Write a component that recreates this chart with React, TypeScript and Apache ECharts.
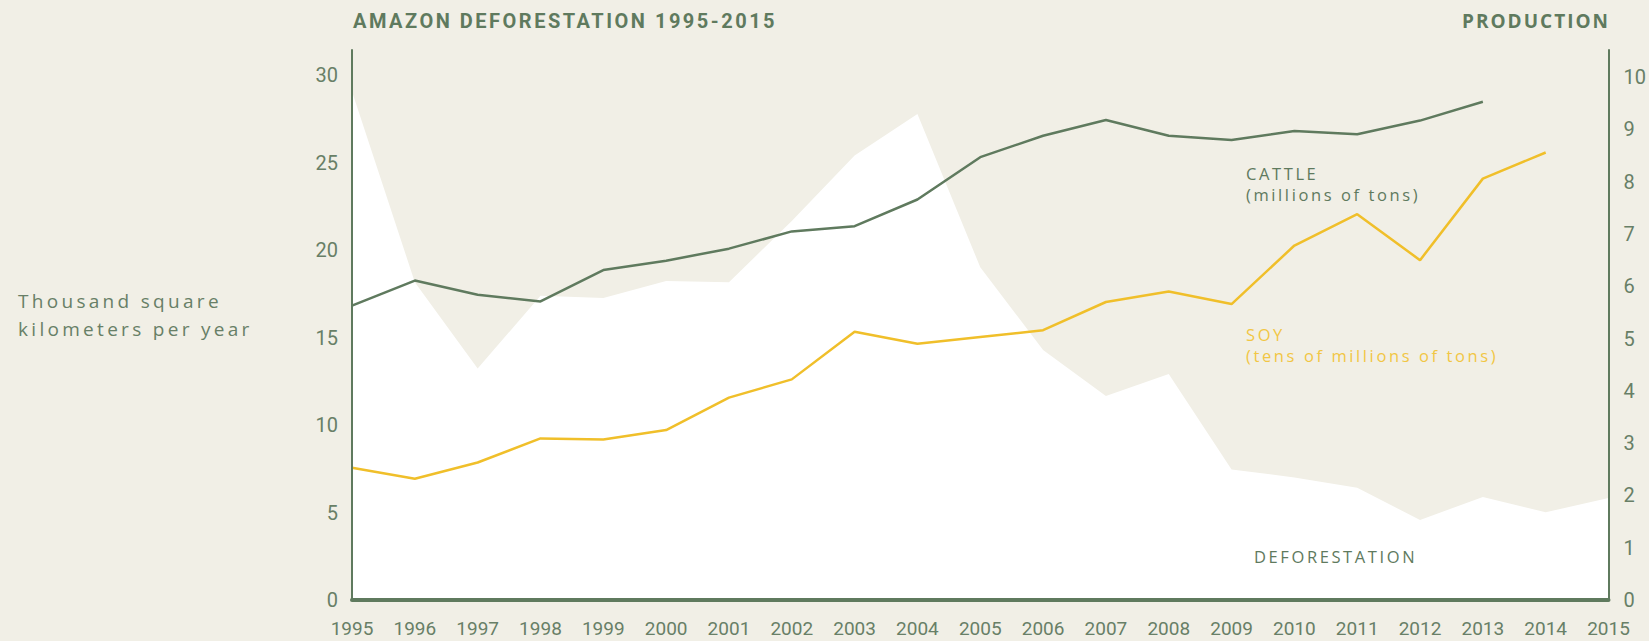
import React, { useEffect, useRef } from "react";
import * as echarts from "echarts";

const years = ["1995","1996","1997","1998","1999","2000","2001","2002","2003","2004","2005","2006","2007","2008","2009","2010","2011","2012","2013","2014","2015"];
const deforestation = [29.059, 18.161, 13.227, 17.383, 17.259, 18.226, 18.165, 21.651, 25.396, 27.772, 19.014, 14.286, 11.651, 12.911, 7.464, 7.0, 6.418, 4.571, 5.891, 5.012, 5.831];
const cattle = [5.63, 6.11, 5.84, 5.71, 6.31, 6.49, 6.72, 7.05, 7.15, 7.66, 8.47, 8.88, 9.18, 8.88, 8.80, 8.97, 8.91, 9.17, 9.53, null, null];
const soy = [2.53, 2.32, 2.63, 3.09, 3.07, 3.25, 3.87, 4.22, 5.13, 4.90, 5.03, 5.16, 5.70, 5.90, 5.66, 6.78, 7.38, 6.50, 8.06, 8.56, null];

const title = "AMAZON DEFORESTATION 1995-2015";
const rightTitle = "PRODUCTION";
const leftAxisName = ["Thousand square", "kilometers per year"];
const cattleLabel = ["CATTLE", "(millions of tons)"];
const soyLabel = ["SOY", "(tens of millions of tons)"];
const deforestationLabel = "DEFORESTATION";

const BG = "#f1efe6";
const GREEN = "#5f7a5e";
const TICK = "#687f67";
const YELLOW = "#f0bf2a";
const YELLOW_TEXT = "#f1c644";

export default function App() {
  const ref = useRef<HTMLDivElement>(null);

  useEffect(() => {
    document.body.style.margin = "0";
    document.body.style.background = BG;
    const chart = echarts.init(ref.current!, null, { renderer: "svg" });
    const tickLabel = { color: TICK, fontSize: 20, fontFamily: "Roboto" };
    const annot = (text: string, x: number, y: number, fill: string, family: string, size: number, weight: any = "normal", align: any = "left") => ({
      type: "text",
      x,
      y,
      z: 10,
      style: { text, fill, font: `${weight} ${size}px ${family}`, textAlign: align, textVerticalAlign: "middle" },
    });
    chart.setOption({
      animation: false,
      backgroundColor: BG,
      grid: { left: 352, right: 37, top: 50, bottom: 41 },
      xAxis: {
        type: "category",
        data: years,
        boundaryGap: false,
        z: 5,
        axisLine: { lineStyle: { color: GREEN, width: 4 } },
        axisTick: { show: false },
        axisLabel: { ...tickLabel, fontSize: 19, margin: 19, interval: 0 },
        splitLine: { show: false },
      },
      yAxis: [
        {
          type: "value",
          min: 0,
          max: 31.43,
          interval: 5,
          z: 5,
          axisLine: { show: true, lineStyle: { color: GREEN, width: 2 } },
          axisTick: { show: false },
          splitLine: { show: false },
          axisLabel: { ...tickLabel, margin: 14, showMaxLabel: false },
        },
        {
          type: "value",
          min: 0,
          max: 10.52,
          interval: 1,
          position: "right",
          z: 5,
          axisLine: { show: true, lineStyle: { color: GREEN, width: 2 } },
          axisTick: { show: false },
          splitLine: { show: false },
          axisLabel: { ...tickLabel, margin: 15, showMaxLabel: false },
        },
      ],
      series: [
        {
          name: "Deforestation",
          type: "line",
          yAxisIndex: 0,
          data: deforestation,
          symbol: "none",
          lineStyle: { width: 0 },
          areaStyle: { color: "#ffffff", opacity: 1 },
          z: 1,
        },
        {
          name: "Cattle",
          type: "line",
          yAxisIndex: 1,
          data: cattle,
          symbol: "none",
          lineStyle: { color: GREEN, width: 2.5 },
          z: 3,
        },
        {
          name: "Soy",
          type: "line",
          yAxisIndex: 1,
          data: soy,
          symbol: "none",
          lineStyle: { color: YELLOW, width: 2.5 },
          z: 3,
        },
      ],
      graphic: [
        annot(title, 353, 21, GREEN, "Roboto, ls25", 20, "bold"),
        annot(rightTitle, 1610, 21, GREEN, "'Open Sans', ls20", 19, "bold", "right"),
        annot(leftAxisName[0], 18, 301, TICK, "'Open Sans', ls33", 19),
        annot(leftAxisName[1], 18, 329, TICK, "'Open Sans', ls33", 19),
        annot(cattleLabel[0], 1246, 173, GREEN, "'Open Sans', ls26", 16.5),
        annot(cattleLabel[1], 1246, 194, GREEN, "'Open Sans', ls26", 16.5),
        annot(soyLabel[0], 1246, 334, YELLOW_TEXT, "'Open Sans', ls26", 16.5),
        annot(soyLabel[1], 1246, 355, YELLOW_TEXT, "'Open Sans', ls26", 16.5),
        annot(deforestationLabel, 1254, 556, GREEN, "'Open Sans', ls26", 16.5),
      ],
    });
    return () => chart.dispose();
  }, []);

  return (
    <>
      <style>{`
        text[style*="ls25"] { letter-spacing: 2.5px; }
        text[style*="ls20"] { letter-spacing: 2px; }
        text[style*="ls33"] { letter-spacing: 3.3px; }
        text[style*="ls26"] { letter-spacing: 2.6px; }
      `}</style>
      <div ref={ref} style={{ position: "fixed", left: 0, top: 0, width: 1649, height: 641 }} />
    </>
  );
}
